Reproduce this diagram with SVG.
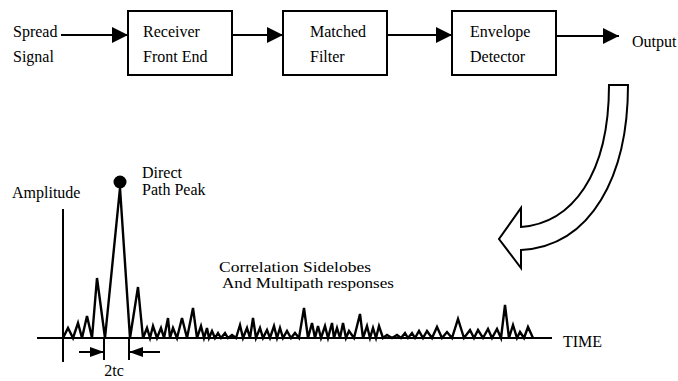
<svg xmlns="http://www.w3.org/2000/svg" width="678" height="381" viewBox="0 0 678 381">
<style>
text{font-family:"Liberation Serif","Times New Roman",serif;font-size:16px;fill:#000}
.note{font-size:15px}
.box{fill:#fff;stroke:#000;stroke-width:2}
.ln{stroke:#000;stroke-width:2;fill:none}
.wave{stroke:#000;stroke-width:2.4;fill:none;stroke-linejoin:miter}
</style>
<defs>
<marker id="ah" viewBox="0 0 16 16" refX="16" refY="8" markerWidth="16" markerHeight="16" markerUnits="userSpaceOnUse" orient="auto">
<path d="M0,0 L16,8 L0,16 Z" fill="#000"/>
</marker>
<marker id="ahs" viewBox="0 0 14 10" refX="14" refY="5" markerWidth="14" markerHeight="10" markerUnits="userSpaceOnUse" orient="auto">
<path d="M0,0 L14,5 L0,10 Z" fill="#000"/>
</marker>
</defs>
<g id="input-label">
<text x="13" y="37">Spread</text>
<text x="13" y="62">Signal</text>
</g>
<g id="receiver">
<rect class="box" x="128" y="11" width="104" height="64"/>
<text x="143" y="37">Receiver</text>
<text x="143" y="62">Front End</text>
</g>
<g id="matched">
<rect class="box" x="283" y="11" width="104" height="64"/>
<text x="310" y="37">Matched</text>
<text x="310" y="62">Filter</text>
</g>
<g id="envelope">
<rect class="box" x="452" y="11" width="104" height="64"/>
<text x="470" y="37">Envelope</text>
<text x="470" y="62">Detector</text>
</g>
<g id="output-label">
<text x="632" y="47">Output</text>
</g>
<g id="connectors">
<line class="ln" x1="61" y1="35" x2="128" y2="35" marker-end="url(#ah)"/>
<line class="ln" x1="232" y1="35" x2="283" y2="35" marker-end="url(#ah)"/>
<line class="ln" x1="387" y1="35" x2="452" y2="35" marker-end="url(#ah)"/>
<line class="ln" x1="556" y1="36" x2="619" y2="36" marker-end="url(#ah)"/>
</g>
<g id="curved-arrow">
<path d="M609,85 L628,85 C628,175 592,246 521,250 L521,268 L499,239 L521,208 L521,227 C572,223 609,175 609,85 Z" fill="#fff" stroke="#000" stroke-width="2" stroke-linejoin="miter"/>
</g>
<g id="plot">
<line class="ln" x1="63" y1="209" x2="63" y2="362"/>
<line class="ln" x1="37" y1="338" x2="552" y2="338" stroke-width="2.4"/>
<text x="12" y="198">Amplitude</text>
<text x="563" y="347">TIME</text>
<polyline class="wave" points="63,338 68,328 73,338 78,323 82,338 87,316 92,338 97,278 105,338 120,188 130,338 138,287 143,338 147,328 150,338 153,326 157,338 161,328 164,338 168,318 170,338 173,328 177,338 182,318 187,338 193,308 197,338 201,326 204,338 207,328 209,338 212,331 215,338 218,333 221,338 225,333 228,338 232,335 236,338 240,325 243,338 247,328 250,338 253,318 256,338 260,328 263,338 267,330 270,338 274,326 277,338 280,328 283,338 287,331 291,338 295,333 299,338 304,308 308,338 312,323 315,338 318,326 321,338 325,326 328,338 332,323 334,338 337,328 340,338 343,323 346,338 349,331 354,338 360,314 363,338 367,326 370,338 373,328 376,338 379,326 383,338 387,335 392,338 397,335 401,338 405,333 408,338 412,333 415,338 419,331 423,338 427,331 432,338 437,327 442,338 447,332 452,338 458,319 464,338 470,330 474,338 478,330 483,338 488,329 492,338 497,329 501,338 505,305 509,338 513,325 517,338 520,332 524,338 528,327 533,338"/>
<circle cx="120" cy="182" r="6.5" fill="#000"/>
<text x="142" y="178">Direct</text>
<text x="142" y="195">Path Peak</text>
<text class="note" x="219" y="272" textLength="152" lengthAdjust="spacingAndGlyphs">Correlation Sidelobes</text>
<text class="note" x="222" y="288" textLength="172" lengthAdjust="spacingAndGlyphs">And Multipath responses</text>
<line class="ln" x1="104" y1="338" x2="104" y2="360"/>
<line class="ln" x1="129" y1="338" x2="129" y2="360"/>
<line class="ln" x1="79" y1="352" x2="104" y2="352" marker-end="url(#ahs)"/>
<line class="ln" x1="160" y1="352" x2="129" y2="352" marker-end="url(#ahs)"/>
<text x="114" y="376" text-anchor="middle">2tc</text>
</g>
</svg>
